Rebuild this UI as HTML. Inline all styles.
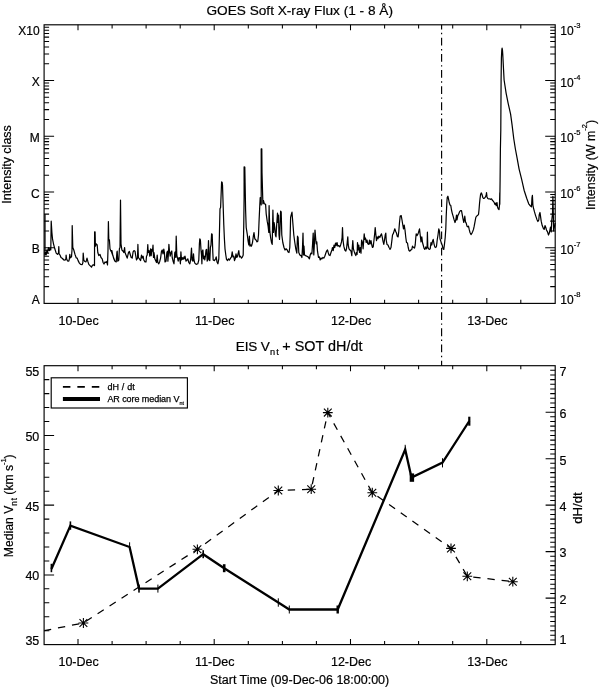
<!DOCTYPE html>
<html lang="en"><head><meta charset="utf-8"><title>GOES Soft X-ray Flux and EIS Vnt + SOT dH/dt</title>
<style>
html,body{margin:0;padding:0;background:#fff;}
body{width:600px;height:687px;overflow:hidden;}
svg{display:block;}
text{font-family:"Liberation Sans",Arial,Helvetica,sans-serif;fill:#000;}
.t{font-size:12.5px;stroke:#000;stroke-width:0.2px;}
.ttl{font-size:13.6px;stroke:#000;stroke-width:0.2px;}
.sm{font-size:7.6px;}
.lg{font-size:9px;stroke:#000;stroke-width:0.25px;}
.ax{stroke:#000;stroke-width:1.15;fill:none;stroke-linecap:butt;}
.tk{stroke:#000;stroke-width:1.05;fill:none;}
</style></head><body>
<svg width="600" height="687" viewBox="0 0 600 687">
<rect x="0" y="0" width="600" height="687" fill="#fff"/>
<g id="goes-plot">
<rect class="ax" x="44.1" y="24.8" width="511.1" height="278.6"/>
<path class="tk" d="M44.1 63.7h5M555.2 63.7h-5M44.1 53.9h5M555.2 53.9h-5M44.1 46.9h5M555.2 46.9h-5M44.1 41.5h5M555.2 41.5h-5M44.1 37.1h5M555.2 37.1h-5M44.1 33.4h5M555.2 33.4h-5M44.1 30.2h5M555.2 30.2h-5M44.1 27.3h5M555.2 27.3h-5M44.1 80.5h10M555.2 80.5h-10M44.1 119.4h5M555.2 119.4h-5M44.1 109.6h5M555.2 109.6h-5M44.1 102.7h5M555.2 102.7h-5M44.1 97.3h5M555.2 97.3h-5M44.1 92.8h5M555.2 92.8h-5M44.1 89.1h5M555.2 89.1h-5M44.1 85.9h5M555.2 85.9h-5M44.1 83h5M555.2 83h-5M44.1 136.2h10M555.2 136.2h-10M44.1 175.2h5M555.2 175.2h-5M44.1 165.4h5M555.2 165.4h-5M44.1 158.4h5M555.2 158.4h-5M44.1 153h5M555.2 153h-5M44.1 148.6h5M555.2 148.6h-5M44.1 144.8h5M555.2 144.8h-5M44.1 141.6h5M555.2 141.6h-5M44.1 138.8h5M555.2 138.8h-5M44.1 191.9h10M555.2 191.9h-10M44.1 230.9h5M555.2 230.9h-5M44.1 221.1h5M555.2 221.1h-5M44.1 214.1h5M555.2 214.1h-5M44.1 208.7h5M555.2 208.7h-5M44.1 204.3h5M555.2 204.3h-5M44.1 200.6h5M555.2 200.6h-5M44.1 197.3h5M555.2 197.3h-5M44.1 194.5h5M555.2 194.5h-5M44.1 247.7h10M555.2 247.7h-10M44.1 286.6h5M555.2 286.6h-5M44.1 276.8h5M555.2 276.8h-5M44.1 269.8h5M555.2 269.8h-5M44.1 264.4h5M555.2 264.4h-5M44.1 260h5M555.2 260h-5M44.1 256.3h5M555.2 256.3h-5M44.1 253.1h5M555.2 253.1h-5M44.1 250.2h5M555.2 250.2h-5M78 24.8v5.5M78 303.4v-5.5M112.1 24.8v3.6M112.1 303.4v-3.6M146.1 24.8v3.6M146.1 303.4v-3.6M180.2 24.8v3.6M180.2 303.4v-3.6M214.2 24.8v5.5M214.2 303.4v-5.5M248.3 24.8v3.6M248.3 303.4v-3.6M282.4 24.8v3.6M282.4 303.4v-3.6M316.4 24.8v3.6M316.4 303.4v-3.6M350.5 24.8v5.5M350.5 303.4v-5.5M384.6 24.8v3.6M384.6 303.4v-3.6M418.6 24.8v3.6M418.6 303.4v-3.6M452.7 24.8v3.6M452.7 303.4v-3.6M486.8 24.8v5.5M486.8 303.4v-5.5M520.8 24.8v3.6M520.8 303.4v-3.6"/>
<path d="M45 214.2L45 252L44.8 255L45.6 252.5L46.2 255L46.9 250L47.5 252.5L48.5 247.5L49.4 250.6L50.2 248.1L50.8 250L51.2 221.2L51.9 232.5L52.5 238.8L53.5 243.8L54.8 248.8L56.2 253.1L57.5 254.4L58.5 253.1L58.8 246.5L59.1 253.8L60 255L61 257.5L62.5 258.5L63.8 260L65 260.2L65.9 258.8L66.1 255.2L66.6 258.8L67.5 261L68.8 261.2L69.4 258.8L69.8 254.4L70.4 257.8L71.5 256.9L72 250L72.2 225.6L72.8 247.5L73.8 250L75 254.4L76.2 257.8L77.2 258.1L78.1 260.6L79.4 263.1L80.6 264.4L82.2 264.6L82.9 262.5L83.2 253.1L83.8 260L84.8 261.5L86 261.9L87 258.2L87.8 261.2L88.8 264.4L90 265.6L91.5 267.2L92.5 265L93.5 265.2L94 264.4L94.5 265.6L94.6 231.9L95.1 231.9L95.4 246.2L96.2 243.8L97.2 245L97.8 252.5L98.8 255.6L100 254.4L101 257.5L102.2 258.8L103.1 262.5L104 264L105 261.9L106 262.5L106.9 261.5L107.5 265L108 250L108.4 221.5L108.8 240L109.4 239.8L110 248.8L111 251.2L111.9 250.6L112.8 255L113.8 258.8L114.8 260.9L111 250.6L111.9 251.2L112.8 255L113.8 258.8L115 261.2L116.2 261.9L116.9 252.5L117.2 251.2L117.8 261.2L118.8 260L119.4 248.8L120 247.5L120.5 200L121 243.8L121.9 250L123.1 251.2L123.8 252.5L124.6 247.5L125 252.5L126 255L127.2 258.1L128.5 252.5L129.4 251.5L130 253.8L131.2 257.5L132.2 258.1L133.1 251.9L134 250.6L135 251.2L135.6 255L136.5 260L137.5 258.1L137.9 244.4L138.4 257.5L139.4 258.8L140.6 260.6L141.5 255L142.2 258.1L143.1 256.2L143.8 260L145 261.9L146 261.9L146.5 256.2L147.2 255L147.8 244.6L148.2 252.5L149 250.6L149.8 256.2L150.6 248.8L151.2 255.6L151.9 249.4L152.5 251.2L153 245L153.5 257.5L154 252.5L154.8 258.8L155.6 260.6L156.5 262.5L157.2 255L157.8 262.5L158.8 263.8L159.8 261.2L160.6 258.1L161.5 251.2L162.2 250L163 253.8L163.8 249L164.4 252.5L165 261.9L166 261.2L166.9 252.5L167.5 251.2L167.9 261.2L168.5 252.5L168.9 244.4L169.5 251.2L170.2 256.2L171 252.5L171.8 251L172.2 257.5L173.1 261.2L174 263.8L174.8 252.5L175.2 251.9L175.8 257.5L176.2 236.2L176.8 255L177.5 258.1L178.2 261.2L179 257.5L179.8 258.1L180.4 263.8L180.9 251.9L181.5 260L182.2 257.5L183.1 259.4L184 256.9L184.8 258.8L185 256.2L186 261.2L187 260L187.8 258.8L188.8 262.5L189.8 263.8L190.6 260L191.5 248.1L192.1 260L192.9 261.2L193.5 253.8L194 260L194.8 263.1L196.2 264.4L197.8 263.8L198.8 260L199.4 243.8L199.8 238.8L200.4 240L201 250L201.5 255L201.9 263.8L202.2 251.2L202.9 250L203.5 258.8L204.1 256.2L204.8 260L205.4 256.2L206 250L206.6 249.4L207.2 261.2L207.9 258.8L208.5 240.6L209.1 260L209.8 260.6L210.4 247.5L211 245L211.6 233.8L212.2 234.4L212.8 252.5L213.2 260L214.4 260.6L215.6 258.8L216.2 256.9L217 261.9L217.9 263.8L218.8 258.8L219.4 235L220 208.8L220.6 207.5L221.6 181.9L222.1 182.2L222.5 185L223.1 203.8L223.8 225L224.4 238.8L225 248.8L225.8 255L226.5 259.4L227.5 260.6L228.5 258.8L229.5 260L230.6 258.1L231.5 256.9L232.2 251.9L233 256.9L233.8 256.2L234.5 260.6L235.2 258.8L236 253.8L236.8 257.5L237.5 256.2L238.2 253.1L238.8 250.6L239.5 256.9L240.5 256.2L241.5 258.1L242.5 256.9L243.2 255L243.8 222.5L244.1 197.5L244.1 166.9L244.8 167.1L245.6 210L246.2 227.5L247.2 233.8L248.1 241.2L248.8 245L249.4 236.2L250 246.2L251 245L251.5 246.2L252.5 242.5L253.5 235L254 232.5L254.8 238.8L256 240L257 241.9L257.8 241.2L258.5 235L259 222.5L259.8 205L260.2 197.5L260.8 198.8L261.2 205L261.2 148.8L261.8 148.8L262 172.5L262.9 203.8L263.5 200.6L264.4 203.8L265.6 204.4L266.2 213.8L267.2 221.2L268.1 226.2L268.8 232.5L269.1 205.6L269.8 231.2L270.6 237.5L271.5 242.5L272.2 244.4L272.9 210L273.5 232.5L274.1 222.5L274.8 227.5L275.4 235L276 236.9L276.6 226.2L277.5 213.1L278 222.5L278.5 215L279 235L279.5 239.4L280 228.8L280.6 211.2L281.2 211.9L281.8 235L282.8 242.5L284 247.5L285 250L286.2 248.8L287.2 250L288.1 251.9L289 252.5L289.8 247.5L290.2 235L290.6 217.5L291.2 215L292 212.2L292.8 222.5L293.8 235L294.8 242.5L295.8 248.8L296.8 253.1L297.5 236.2L298.1 237.5L298.8 252.5L299.8 255L301 255.6L301.9 257.5L302.5 247.5L303 233.1L303.5 255L304 246.2L304.5 255L305.6 255.6L306.9 256.2L308.1 256.9L309.4 258.8L310.2 255L311 253.1L311.9 253.8L312.5 245L313.2 233.1L313.8 255L314.4 243.8L315 230L315.8 240L316.2 243.8L316.8 241.9L317.5 251.2L318.5 257.5L319.4 256.9L320.2 260L321 258.8L321 258.1L321.9 258.8L322.8 257.5L323.8 258.1L324.8 256.2L325.6 253.8L326.5 251.2L327.5 250L328.2 252.5L329 255L330 255.6L331 252.5L331.9 250L332.5 247.5L333.2 250.6L334 245L334.8 247.5L335.5 243.1L336.2 245.6L337 242.5L337.8 246.2L338.8 245.6L339.8 246.9L340.6 245L341.5 241.9L342.1 237.5L342.5 227.5L343 240L343.8 246.2L344.8 250L345.8 251L346.5 248.8L347.2 242.5L347.8 236.9L348.2 245L349 248.8L350 250L351 251.2L351.8 255.6L352.2 248.8L352.8 240.6L353.4 248.8L354.1 251.2L355 253.8L355.8 255.6L356.5 252.5L357.1 254.4L357.5 242.5L358.2 250L358.8 245L359.5 252.5L360.2 247.5L361 253.1L361.6 240L362.5 242.5L363.1 248.8L363.8 239.4L364.2 233.8L364.8 239.4L365.5 238.1L366.2 242.5L367 240L367.8 243.8L368.8 244.4L369.5 240L370.2 243.8L371 240.6L371.8 245L372.5 247.5L373.2 246.9L374 240L374.8 232.5L375.2 227.5L375.9 235L376.5 240.6L377.2 236.9L378 238.8L378.8 236.2L379.8 237.5L380.8 235L381.5 233.8L382.2 236.9L383 241.2L383.8 244.4L384.5 240L385.2 235L385.8 233.1L386.2 240L387 244.4L388 245L389 247.5L390 248.8L390 249.4L391 247.5L391.8 241.2L392.5 235L393.5 233.1L394.8 228.8L395.6 231.2L396.5 233.1L397.2 236.2L398.1 236.9L398.8 231.2L399.5 222.5L400.2 216L401.2 215.6L402 220L402.8 225L403.5 228.8L404.2 225L405 230L405.8 237.5L406.5 242.5L407.5 243.1L408.2 247.5L409 250.6L409.8 251.2L410.8 250L411.8 249.4L412.5 246.2L413.5 247.5L414.5 248.1L415.2 245L415.8 237.5L416.2 233.8L417 235.6L417.8 234.4L418.5 232.5L419.5 228.8L420.2 235L421 241.9L421.8 236.9L422.5 242.5L423.2 245L424 248.1L424.8 249.4L425.8 246.9L426.5 248.8L427.1 247.5L427.4 232.2L427.8 246.9L428.5 248.8L429.5 249.4L430.2 248.8L431 242.5L431.8 245L432.5 241.2L433.2 239.4L434 243.8L434.8 246.9L435.8 247.5L436.5 246.2L437.2 240L438 235L438.8 228.8L439.5 231.2L440 238.8L440.8 241.2L441.5 243.8L442.2 245L443 248.8L443.8 249.4L444.5 243.8L445.2 237.5L445.8 228.8L446.2 216.2L446.8 203.8L447.2 197.5L447.9 196.2L448.5 198.8L449.2 202.5L450 205L450.8 205.6L451.5 210L452.2 213.1L453.1 216.2L454 219.4L455 222.5L455.8 220L456.5 215L457 220L457.8 215.6L458.5 214.4L459.5 211.9L460.5 210.6L461.5 210.6L462.2 214.4L463 218.8L463.8 222.5L464.8 216.2L465.5 221.9L466.2 223.1L467 226.2L467.8 226.9L468.5 226.2L469.2 229.4L470 232.5L471 234.6L472 233.1L472.8 231.2L473.5 229.4L474.2 226.2L475 221.9L475.8 217.5L476.5 216.2L477.5 215.6L478.5 214.4L479 210L479.5 203.8L480 198.8L480.6 194.4L481.2 192.9L482 194.4L482.8 197.5L483.5 198.5L484.5 198.1L485.5 196.9L486.2 195L486.5 192.5L487 196.9L487.8 198.5L488.8 199L489.8 198.8L490.8 199.4L491.5 198.8L492.2 200L493.2 201.2L494.2 202.5L495 204.4L495.8 203.1L496.2 205.6L497 202.5L497.5 206.9L498.2 208.8L499 209.6L499.5 205L499.8 192.5L499.8 204.3L500.1 180L500.4 149L500.8 130L501.1 80L501.4 58L501.8 50L502.1 48.1L502.5 50.5L502.8 55L503.5 68.8L504.1 80L506.1 93.1L508.1 103.1L510.6 114.2L512.1 125.2L513.8 139L515.3 148.5L517.1 158.1L519.1 169.1L521.6 179.2L524.1 190.2L526.7 198.3L528.7 203.8L530.5 206L531.5 206.9L532 197.5L532.4 195.4L532.9 205L533.5 208.1L534.5 211.9L535.6 215.6L536.9 219.4L537.9 221.5L538.8 220L539.2 215L540 212.5L540.5 216.2L541.2 221.2L542.2 225.6L543.5 228.8L544.2 229.4L545 225.6L545.8 227.5L546.5 230L547.5 231.9L548.5 235L549.3 233L550.5 227L551.2 232L551.8 220L552.5 213.8L552.9 196.4L553.3 213L553.6 231L554.4 227L555.2 223" fill="none" stroke="#000" stroke-width="1.22" stroke-linejoin="round"/>
</g>
<path d="M441.6 24.8 V 365.7" fill="none" stroke="#000" stroke-width="1.15" stroke-dasharray="7.8 3.45 1.4 3.495" stroke-dashoffset="3.2"/>
<text class="ttl" x="299.7" y="15.3" text-anchor="middle" textLength="186.5" lengthAdjust="spacingAndGlyphs">GOES Soft X-ray Flux (1 - 8 Å)</text>
<text class="t" style="font-size:12px" x="39.7" y="34.5" text-anchor="end">X10</text>
<text class="t" style="font-size:12px" x="560.3" y="34.6">10<tspan class="sm" dy="-7.0">-3</tspan></text>
<text class="t" style="font-size:12px" x="39.7" y="86.1" text-anchor="end">X</text>
<text class="t" style="font-size:12px" x="560.3" y="86.5">10<tspan class="sm" dy="-7.0">-4</tspan></text>
<text class="t" style="font-size:12px" x="39.7" y="141.8" text-anchor="end">M</text>
<text class="t" style="font-size:12px" x="560.3" y="142.2">10<tspan class="sm" dy="-7.0">-5</tspan></text>
<text class="t" style="font-size:12px" x="39.7" y="197.5" text-anchor="end">C</text>
<text class="t" style="font-size:12px" x="560.3" y="197.9">10<tspan class="sm" dy="-7.0">-6</tspan></text>
<text class="t" style="font-size:12px" x="39.7" y="253.3" text-anchor="end">B</text>
<text class="t" style="font-size:12px" x="560.3" y="253.7">10<tspan class="sm" dy="-7.0">-7</tspan></text>
<text class="t" style="font-size:12px" x="39.7" y="303.6" text-anchor="end">A</text>
<text class="t" style="font-size:12px" x="560.3" y="303.6">10<tspan class="sm" dy="-7.0">-8</tspan></text>
<text class="t" x="78.6" y="325.2" text-anchor="middle">10-Dec</text>
<text class="t" x="78.6" y="665.7" text-anchor="middle">10-Dec</text>
<text class="t" x="214.8" y="325.2" text-anchor="middle">11-Dec</text>
<text class="t" x="214.8" y="665.7" text-anchor="middle">11-Dec</text>
<text class="t" x="351.1" y="325.2" text-anchor="middle">12-Dec</text>
<text class="t" x="351.1" y="665.7" text-anchor="middle">12-Dec</text>
<text class="t" x="487.4" y="325.2" text-anchor="middle">13-Dec</text>
<text class="t" x="487.4" y="665.7" text-anchor="middle">13-Dec</text>
<text class="t" transform="translate(10.9 164.4) rotate(-90)" text-anchor="middle">Intensity class</text>
<text class="t" style="font-size:12.4px" transform="translate(594.8 164.9) rotate(-90)" text-anchor="middle">Intensity (W m<tspan class="sm" dy="-8.2">-2</tspan><tspan dy="8.2">)</tspan></text>
<g id="eis-plot">
<rect class="ax" x="44.1" y="365.7" width="511.1" height="278.9"/>
<path class="tk" d="M44.1 630.7h5.2M44.1 616.7h5.2M44.1 602.8h5.2M44.1 588.8h5.2M44.1 574.9h10M44.1 560.9h5.2M44.1 547h5.2M44.1 533h5.2M44.1 519.1h5.2M44.1 505.1h10M44.1 491.2h5.2M44.1 477.3h5.2M44.1 463.3h5.2M44.1 449.4h5.2M44.1 435.4h10M44.1 421.5h5.2M44.1 407.5h5.2M44.1 393.6h5.2M44.1 379.6h5.2M555.2 640h-5M555.2 635.3h-5M555.2 630.7h-5M555.2 626h-5M555.2 621.4h-5M555.2 616.7h-5M555.2 612.1h-5M555.2 607.4h-5M555.2 602.8h-5M555.2 598.1h-9.6M555.2 593.5h-5M555.2 588.8h-5M555.2 584.2h-5M555.2 579.5h-5M555.2 574.9h-5M555.2 570.2h-5M555.2 565.6h-5M555.2 560.9h-5M555.2 556.3h-5M555.2 551.6h-9.6M555.2 547h-5M555.2 542.3h-5M555.2 537.7h-5M555.2 533h-5M555.2 528.4h-5M555.2 523.7h-5M555.2 519.1h-5M555.2 514.4h-5M555.2 509.8h-5M555.2 505.1h-9.6M555.2 500.5h-5M555.2 495.9h-5M555.2 491.2h-5M555.2 486.6h-5M555.2 481.9h-5M555.2 477.3h-5M555.2 472.6h-5M555.2 468h-5M555.2 463.3h-5M555.2 458.7h-9.6M555.2 454h-5M555.2 449.4h-5M555.2 444.7h-5M555.2 440.1h-5M555.2 435.4h-5M555.2 430.8h-5M555.2 426.1h-5M555.2 421.5h-5M555.2 416.8h-5M555.2 412.2h-9.6M555.2 407.5h-5M555.2 402.9h-5M555.2 398.2h-5M555.2 393.6h-5M555.2 388.9h-5M555.2 384.3h-5M555.2 379.6h-5M555.2 375h-5M555.2 370.3h-5M78 365.7v5.5M78 644.6v-5.5M112.1 365.7v3.6M112.1 644.6v-3.6M146.1 365.7v3.6M146.1 644.6v-3.6M180.2 365.7v3.6M180.2 644.6v-3.6M214.2 365.7v5.5M214.2 644.6v-5.5M248.3 365.7v3.6M248.3 644.6v-3.6M282.4 365.7v3.6M282.4 644.6v-3.6M316.4 365.7v3.6M316.4 644.6v-3.6M350.5 365.7v5.5M350.5 644.6v-5.5M384.6 365.7v3.6M384.6 644.6v-3.6M418.6 365.7v3.6M418.6 644.6v-3.6M452.7 365.7v3.6M452.7 644.6v-3.6M486.8 365.7v5.5M486.8 644.6v-5.5M520.8 365.7v3.6M520.8 644.6v-3.6"/>
<path d="M44.4 630.6L83.4 623L197.4 549.3L278.3 490.5L311.2 489.2L327.8 412.6L372.3 492.7L451 548.4L467.3 576.3L512.8 581.7" fill="none" stroke="#000" stroke-width="1.25" stroke-dasharray="7.35 6.92" stroke-dashoffset="0.45"/>
<path d="M78.5 623h9.8M83.4 618.1v9.8M79.5 619.1l7.8 7.8M79.5 626.9l7.8 -7.8M192.5 549.3h9.8M197.4 544.4v9.8M193.5 545.4l7.8 7.8M193.5 553.2l7.8 -7.8M273.4 490.5h9.8M278.3 485.6v9.8M274.4 486.6l7.8 7.8M274.4 494.4l7.8 -7.8M306.3 489.2h9.8M311.2 484.3v9.8M307.3 485.3l7.8 7.8M307.3 493.1l7.8 -7.8M322.9 412.6h9.8M327.8 407.7v9.8M323.9 408.7l7.8 7.8M323.9 416.5l7.8 -7.8M367.4 492.7h9.8M372.3 487.8v9.8M368.4 488.8l7.8 7.8M368.4 496.6l7.8 -7.8M446.1 548.4h9.8M451 543.5v9.8M447.1 544.5l7.8 7.8M447.1 552.3l7.8 -7.8M462.4 576.3h9.8M467.3 571.4v9.8M463.4 572.4l7.8 7.8M463.4 580.2l7.8 -7.8M507.9 581.7h9.8M512.8 576.8v9.8M508.9 577.8l7.8 7.8M508.9 585.6l7.8 -7.8" fill="none" stroke="#000" stroke-width="1.1"/>
<path d="M51.4 569L70.4 525.6L129.6 547L139 588.6L157.9 588.6L203.2 554.2L224.2 568.2L278.3 602.5L289.3 609.5L337.7 609.5L405.2 449.6L411.5 477.6L442.5 462.5L469.3 421" fill="none" stroke="#000" stroke-width="2.3" stroke-linejoin="miter"/>
<rect x="50.6" y="563.8" width="1.6" height="8.4" fill="#000"/>
<rect x="69.6" y="521.4" width="1.6" height="8.4" fill="#000"/>
<rect x="129.1" y="542.3" width="1" height="6.4" fill="#000"/>
<rect x="138.2" y="584.6" width="1.6" height="8" fill="#000"/>
<rect x="157.4" y="584.6" width="1" height="8" fill="#000"/>
<rect x="202.4" y="550.2" width="1.6" height="8" fill="#000"/>
<rect x="222.9" y="564.2" width="2.6" height="8" fill="#000"/>
<rect x="277.8" y="598.3" width="1" height="8.4" fill="#000"/>
<rect x="288.8" y="605.5" width="1" height="8" fill="#000"/>
<rect x="336.5" y="605.5" width="2.4" height="8" fill="#000"/>
<rect x="404.7" y="444.8" width="1" height="8.4" fill="#000"/>
<rect x="409.7" y="473.4" width="4.4" height="8.4" fill="#000"/>
<rect x="442" y="458.2" width="1" height="9.2" fill="#000"/>
<rect x="468.2" y="416.7" width="2.2" height="9" fill="#000"/>
</g>
<rect x="51.2" y="377.8" width="136.2" height="30.2" fill="#fff" stroke="#000" stroke-width="1.15"/>
<path d="M62.9 386.8H99.3" stroke="#000" stroke-width="1.8" stroke-dasharray="7.5 6.95" fill="none"/>
<path d="M62.9 399H100" stroke="#000" stroke-width="3.8" fill="none"/>
<text class="lg" x="107.4" y="389.6" textLength="27.4" lengthAdjust="spacing">dH / dt</text>
<text class="lg" x="107.4" y="402.1" textLength="72" lengthAdjust="spacing">AR core median V</text>
<text x="179.4" y="404.7" style="font-size:5.4px;stroke:#000;stroke-width:0.2px">nt</text>
<text class="ttl" x="235.8" y="351.2" textLength="34" lengthAdjust="spacing">EIS V</text>
<text x="270" y="355" style="font-size:9.2px;letter-spacing:1.2px;stroke:#000;stroke-width:0.2px">nt</text>
<text class="ttl" x="282.3" y="351.2" style="font-size:14.4px">+ SOT dH/dt</text>
<text class="t" x="39.3" y="644.7" text-anchor="end">35</text>
<text class="t" x="39.3" y="580.4" text-anchor="end">40</text>
<text class="t" x="39.3" y="510.6" text-anchor="end">45</text>
<text class="t" x="39.3" y="440.9" text-anchor="end">50</text>
<text class="t" x="39.3" y="375.8" text-anchor="end">55</text>
<text class="t" x="559.4" y="643.9">1</text>
<text class="t" x="559.4" y="603.9">2</text>
<text class="t" x="559.4" y="557.4">3</text>
<text class="t" x="559.4" y="510.9">4</text>
<text class="t" x="559.4" y="464.5">5</text>
<text class="t" x="559.4" y="418">6</text>
<text class="t" x="559.4" y="376.1">7</text>
<text class="t" style="font-size:12.2px" transform="translate(12.9 557.2) rotate(-90)">Median V<tspan style="font-size:8.4px;letter-spacing:0.7px" dy="3.6">nt</tspan><tspan dy="-3.6" dx="-0.7"> (km s</tspan><tspan class="sm" dy="-7.4" dx="-0.2">-1</tspan><tspan dy="7.4" dx="-0.2">)</tspan></text>
<text class="t" style="font-size:13.2px" transform="translate(582 508) rotate(-90)" text-anchor="middle">dH/dt</text>
<text class="t" x="299.6" y="684" text-anchor="middle">Start Time (09-Dec-06 18:00:00)</text>
</svg>
</body></html>
